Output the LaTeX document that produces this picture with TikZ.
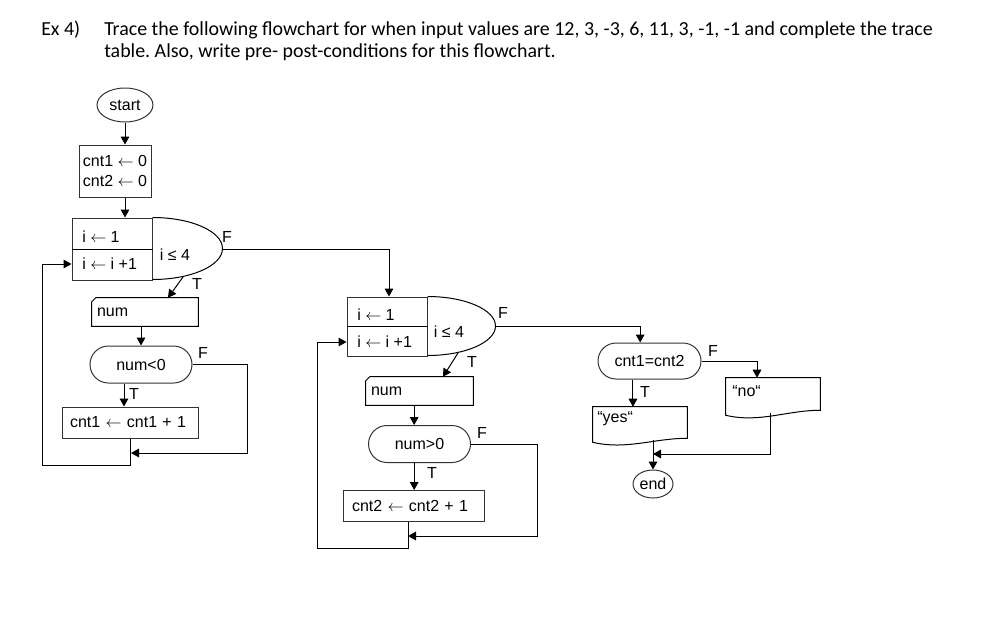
\documentclass[tikz,border=0pt]{standalone}
\usepackage{fontspec}
\setmainfont{Liberation Sans}
\newfontfamily\titlefont{Carlito}
\usepackage{tikz}
\usetikzlibrary{arrows.meta,positioning,shapes.geometric,shapes.misc}
\definecolor{stroke}{HTML}{333333}
\newcommand{\assign}{$\leftarrow$}
\frenchspacing

\begin{document}
\begin{tikzpicture}[
  x=0.75pt, y=-0.75pt,
  every node/.style={font=\fontsize{12}{15}\selectfont},
  task/.style={anchor=base west, inner sep=0pt, font=\titlefont\fontsize{14.95}{18}\selectfont},
  box/.style={draw=stroke, line width=0.75pt, minimum height=23.25pt, align=left, inner xsep=6pt},
  term/.style={draw=stroke, line width=0.75pt, ellipse, inner sep=0pt},
  test/.style={draw=stroke, line width=0.75pt, rounded rectangle, minimum width=76.5pt,
               minimum height=27.75pt, inner sep=0pt},
  loopbox/.style={draw=stroke, line width=0.75pt, minimum width=60pt, inner sep=0pt},
  shell/.style={inner sep=0pt, minimum width=70.5pt},
  lbl/.style={inner sep=0pt},
  arr/.style={-{Triangle[width=6.5pt,length=6pt]}, line width=0.75pt, stroke},
  wire/.style={line width=0.75pt, stroke}
]
  \useasboundingbox (0,0) rectangle (1002,625);

  % task text
  \node[task] (exno) at (41,35) {Ex 4)};
  \node[task] (taska) at (104,35) {Trace the following flowchart for when input values are 12, 3, -3, 6, 11, 3, -1, -1 and complete the trace};
  \node[task] (taskb) at (104,57) {table. Also, write pre- post-conditions for this flowchart.};

  % first loop
  \node[term, minimum width=42pt, minimum height=25.5pt] (start) at (125,105) {start};
  \node[box, minimum width=54pt, minimum height=39pt, inner xsep=2pt] (init) at (115,171) {cnt1 \assign{} 0\\cnt2 \assign{} 0};

  \node[loopbox, minimum height=46.5pt] (loopa) at (112,249) {};
  \draw[wire] (loopa.west) -- (loopa.east);
  \draw[wire] (loopa.north east) arc[start angle=90, end angle=-90, x radius=52.5pt, y radius=23.25pt];
  \node[lbl, anchor=west] (seta) at (82,237) {i \assign{} 1};
  \node[lbl, anchor=west] (stepa) at (82,264) {i \assign{} i +1};
  \node[lbl] (conda) at (175,255) {i ≤ 4};
  \coordinate (fa) at (222,249);
  \coordinate (ta) at (183,277);

  \node[shell, minimum height=21pt, text width=72pt, inner xsep=3.75pt, align=left] (numa) at (145,312) {num};
  \draw[wire] (numa.south west) -- ([yshift=-3pt]numa.north west) -- ([xshift=3pt]numa.north west)
    -- (numa.north east) -- (numa.south east) -- cycle;
  \node[test] (neg) at (141,364.5) {num<0};
  \node[box, minimum width=102pt, text width=90pt] (inca) at (130,422.5) {cnt1 \assign{} cnt1 + 1};
  \coordinate (joina) at (131,453);
  \coordinate (backa) at (42,465);

  \draw[arr] (start.south) -- (start.south |- init.north);
  \draw[arr] (init.south -| start) -- (loopa.north -| start);
  \draw[arr] (ta) -- ([xshift=17.25pt]numa.north);
  \draw[arr] (numa.south -| neg.north) -- (neg.north);
  \draw[arr] ([xshift=-12.75pt]neg.south) -- ([xshift=-12.75pt]neg.south |- inca.north);
  \draw[arr] (neg.east) -| (247,453) -- (joina);
  \draw[arr] (inca.south) |- (backa) |- (stepa -| loopa.west);
  \node[lbl] (tla) at (197,284) {T};
  \node[lbl] (fla) at (227,237) {F};
  \node[lbl] (tnega) at (134,394) {T};
  \node[lbl] (fnega) at (203,353) {F};

  % second loop
  \node[loopbox, minimum height=44.25pt] (loopb) at (387,326.5) {};
  \draw[wire] (loopb.west) -- (loopb.east);
  \draw[wire] (loopb.north east) arc[start angle=90, end angle=-90, x radius=51pt, y radius=22.125pt];
  \node[lbl, anchor=west] (setb) at (357,315) {i \assign{} 1};
  \node[lbl, anchor=west] (stepb) at (357,342) {i \assign{} i +1};
  \node[lbl] (condb) at (449,332) {i ≤ 4};
  \coordinate (fb) at (495,326.5);
  \coordinate (tb) at (458,353);

  \node[shell, minimum height=21pt, text width=72.75pt, inner xsep=3.75pt, align=left] (numb) at (419.5,391) {num};
  \draw[wire] (numb.south west) -- ([yshift=-3pt]numb.north west) -- ([xshift=3pt]numb.north west)
    -- (numb.north east) -- (numb.south east) -- cycle;
  \node[test] (pos) at (419.5,444) {num>0};
  \node[box, minimum width=105.75pt, text width=92.25pt] (incb) at (413.5,506) {cnt2 \assign{} cnt2 + 1};
  \coordinate (joinb) at (408,536);
  \coordinate (backb) at (317,548);

  \draw[arr] (fa) -| ([xshift=1.5pt]loopb.north);
  \draw[arr] (tb) -- ([xshift=17.6pt]numb.north);
  \draw[arr] ([xshift=-4pt]numb.south) -- ([xshift=-4pt]numb.south |- pos.north);
  \draw[arr] ([xshift=-4pt]pos.south) -- ([xshift=-4pt]pos.south |- incb.north);
  \draw[arr] (pos.east) -| (537,536) -- (joinb);
  \draw[arr] (joinb |- incb.south) |- (backb) |- (stepb -| loopb.west);
  \node[lbl] (tlb) at (472,362) {T};
  \node[lbl] (flb) at (503,313) {F};
  \node[lbl] (tpos) at (432,473) {T};
  \node[lbl] (fpos) at (482,433) {F};

  % result
  \node[test, minimum width=77.25pt, minimum height=27pt] (cmp) at (649.5,361) {cnt1=cnt2};
  \node[shell, minimum height=26.25pt] (yesdoc) at (640,424.5) {};
  \draw[wire] (yesdoc.north west) -- (yesdoc.north east) -- ([yshift=3pt]yesdoc.south east)
    .. controls +(-25pt,0pt) and +(25pt,-6pt) .. (yesdoc.south west) -- cycle;
  \node[lbl, anchor=west] (yestxt) at (597,419) {“yes“};
  \node[shell, minimum height=27.75pt] (nodoc) at (773,396.5) {};
  \draw[wire] (nodoc.north west) -- (nodoc.north east) -- ([yshift=3.75pt]nodoc.south east)
    .. controls +(-25pt,0pt) and +(25pt,-6pt) .. (nodoc.south west) -- cycle;
  \node[lbl, anchor=west] (notxt) at (732,391) {“no“};
  \node[term, minimum width=30pt, minimum height=21pt] (end) at (653,484) {end};
  \coordinate (joinc) at (653,454);

  \draw[arr] (fb) -| ([xshift=-7pt]cmp.north);
  \draw[arr] (cmp.east) -| ([xshift=-12pt]nodoc.north);
  \draw[arr] ([xshift=-12.4pt]cmp.south) -- ([xshift=-12.4pt]cmp.south |- yesdoc.north);
  \draw[arr] ([yshift=2pt]end.north |- yesdoc.south) -- (end.north);
  \draw[arr] ([xshift=-2.25pt,yshift=2pt]nodoc.south) |- (joinc);
  \node[lbl] (tcmp) at (645,392) {T};
  \node[lbl] (fcmp) at (713,351) {F};
\end{tikzpicture}
\end{document}
